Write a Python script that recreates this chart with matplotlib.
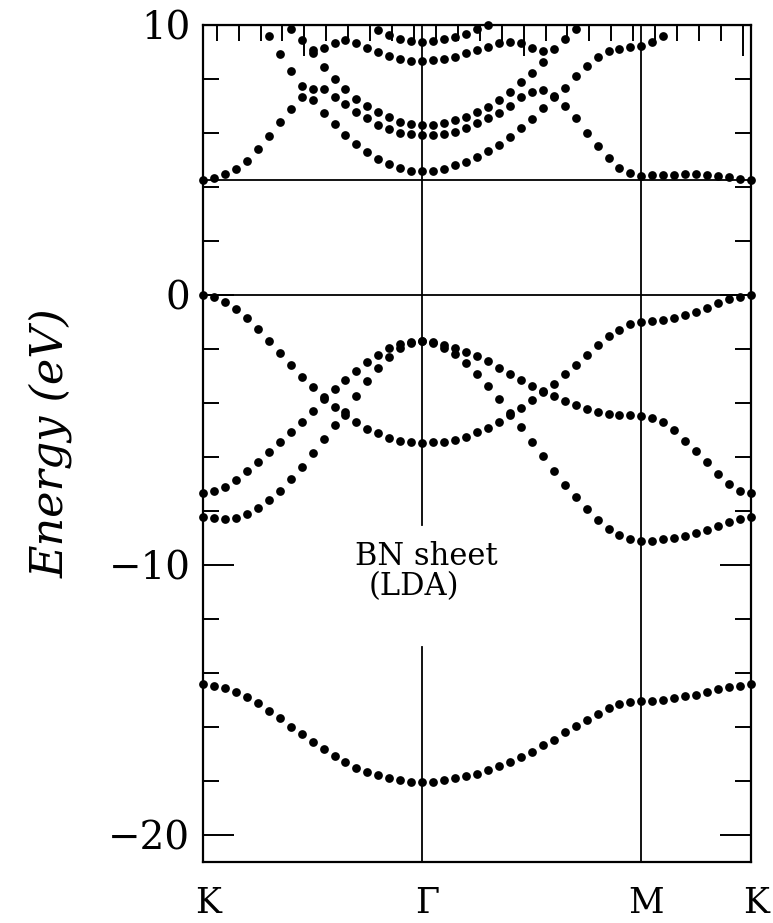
import numpy as np
import matplotlib
matplotlib.use('Agg')
import matplotlib.pyplot as plt
import matplotlib.transforms as mtrans

nan = np.nan

# k-point index along K -> Gamma -> M -> K (20 + 20 + 10 steps)
kpts = np.arange(51)
sym_pos = [0, 20, 40, 50]
sym_labels = ['K', 'Γ', 'M', 'K']

# valence bands (eV)
pi_v = [0.00, -0.09, -0.25, -0.53, -0.86, -1.27, -1.70, -2.14, -2.59, -3.02, -3.40,
        -3.79, -4.14, -4.44, -4.72, -4.96, -5.12, -5.28, -5.40, -5.46, -5.47,
        -5.46, -5.43, -5.37, -5.25, -5.09, -4.91, -4.70, -4.46, -4.19, -3.90,
        -3.59, -3.28, -2.93, -2.58, -2.21, -1.84, -1.51, -1.28, -1.06, -1.00,
        -0.98, -0.93, -0.86, -0.74, -0.62, -0.47, -0.31, -0.15, -0.06, 0.00]
sig_up = [-7.35, -7.25, -7.10, -6.85, -6.52, -6.17, -5.80, -5.46, -5.09, -4.69, -4.30,
          -3.86, -3.49, -3.15, -2.80, -2.49, -2.22, -1.98, -1.81, -1.73, -1.70,
          -1.75, -1.84, -1.96, -2.11, -2.27, -2.46, -2.70, -2.93, -3.14, -3.36,
          -3.57, -3.75, -3.94, -4.09, -4.21, -4.33, -4.40, -4.44, -4.46, -4.47,
          -4.57, -4.72, -5.00, -5.40, -5.78, -6.20, -6.63, -7.00, -7.26, -7.35]
sig_lo = [-8.23, -8.27, -8.31, -8.25, -8.12, -7.90, -7.59, -7.25, -6.83, -6.36, -5.86,
          -5.35, -4.81, -4.32, -3.73, -3.19, -2.72, -2.31, -1.98, -1.79, -1.70,
          -1.78, -1.95, -2.20, -2.52, -2.93, -3.36, -3.84, -4.37, -4.90, -5.44,
          -5.98, -6.51, -7.02, -7.48, -7.93, -8.32, -8.67, -8.90, -9.05, -9.12,
          -9.11, -9.05, -8.99, -8.93, -8.83, -8.70, -8.54, -8.40, -8.30, -8.22]
s_low = [-14.41, -14.47, -14.54, -14.69, -14.88, -15.12, -15.39, -15.68, -15.99, -16.27, -16.54,
         -16.81, -17.06, -17.30, -17.51, -17.65, -17.79, -17.90, -17.98, -18.02, -18.05,
         -18.02, -17.96, -17.90, -17.83, -17.73, -17.61, -17.46, -17.30, -17.10, -16.91,
         -16.67, -16.47, -16.20, -15.95, -15.73, -15.50, -15.29, -15.15, -15.07, -15.03,
         -15.02, -14.99, -14.93, -14.87, -14.80, -14.70, -14.61, -14.53, -14.47, -14.41]

# conduction bands (eV), nan = above the frame
cb_pi = [4.26, 4.32, 4.48, 4.67, 4.98, 5.41, 5.89, 6.40, 6.89, 7.35, 7.62,
         7.62, 7.35, 7.07, 6.79, 6.54, 6.30, 6.14, 6.01, 5.95, 5.93,
         5.94, 5.98, 6.05, 6.17, 6.36, 6.54, 6.73, 7.00, 7.32, 7.53,
         7.59, 7.37, 7.00, 6.54, 6.01, 5.52, 5.09, 4.72, 4.51, 4.42,
         4.44, 4.44, 4.46, 4.47, 4.47, 4.46, 4.42, 4.36, 4.30, 4.26]
cb_nfe = [nan, nan, nan, nan, nan, nan, 9.60, 8.93, 8.31, 7.74, 7.22,
          6.73, 6.32, 5.93, 5.59, 5.31, 5.02, 4.85, 4.69, 4.60, 4.59,
          4.60, 4.68, 4.80, 4.94, 5.12, 5.33, 5.56, 5.86, 6.17, 6.52,
          6.91, 7.33, 7.68, 8.12, 8.49, 8.80, 9.02, 9.11, 9.20, 9.23,
          9.36, 9.60, nan, nan, nan, nan, nan, nan, nan, nan]
cb_3 = [nan, nan, nan, nan, nan, nan, nan, nan, 9.84, 9.44, 8.95,
        8.46, 8.00, 7.62, 7.26, 7.00, 6.77, 6.58, 6.42, 6.33, 6.30,
        6.31, 6.37, 6.48, 6.60, 6.79, 6.98, 7.21, 7.53, 7.88, 8.21,
        8.62, 9.10, 9.49, 9.84, nan, nan, nan, nan, nan, nan,
        nan, nan, nan, nan, nan, nan, nan, nan, nan, nan]
cb_e = [nan, nan, nan, nan, nan, nan, nan, nan, nan, nan, 9.07,
        9.14, 9.35, 9.44, 9.32, 9.16, 9.01, 8.85, 8.73, 8.67, 8.67,
        8.69, 8.75, 8.83, 8.95, 9.07, 9.19, 9.32, 9.37, 9.32, 9.14,
        9.04, nan, nan, nan, nan, nan, nan, nan, nan, nan,
        nan, nan, nan, nan, nan, nan, nan, nan, nan, nan]
cb_f = [nan] * 16 + [9.81, 9.63, 9.50, 9.40, 9.38,
                     9.40, 9.47, 9.57, 9.68, 9.84, 9.99] + [nan] * 24

bands = [pi_v, sig_up, sig_lo, s_low, cb_pi, cb_nfe, cb_3, cb_e, cb_f]

cbm = 4.26
gamma_gap = (-13.04, -8.52)

plt.rcParams['font.family'] = 'DejaVu Serif'

fig = plt.figure(figsize=(7.73, 9.23), dpi=100)
ax = fig.add_axes([203 / 773, 61 / 923, 548 / 773, 837 / 923])

for b in bands:
    ax.plot(kpts, b, 'o', ms=6.3, color='black', mew=0, clip_on=False, zorder=3)

lw = 1.3
ax.axhline(0, color='black', lw=lw)
ax.axhline(cbm, color='black', lw=lw)
ax.axvline(sym_pos[2], color='black', lw=lw)
ax.plot([sym_pos[1]] * 2, [10, gamma_gap[1]], color='black', lw=lw)
ax.plot([sym_pos[1]] * 2, [gamma_gap[0], -21], color='black', lw=lw)

ax.set_xlim(0, 50)
ax.set_ylim(-21, 10)
for s in ax.spines.values():
    s.set_linewidth(1.6)

ax.set_xticks(sym_pos, sym_labels)
ax.tick_params(axis='x', length=0, pad=17, labelsize=25)
shift = mtrans.ScaledTranslation(5 / 100, 0, fig.dpi_scale_trans)
for lab in ax.get_xticklabels():
    lab.set_transform(lab.get_transform() + shift)

ax.set_yticks([-20, -10, 0, 10])
ax.set_yticks(np.arange(-20, 11, 2), minor=True)
ax.tick_params(axis='y', which='both', direction='in', left=True, right=True,
               width=1.4, labelsize=28, pad=9)
ax.tick_params(axis='y', which='major', length=22)
ax.tick_params(axis='y', which='minor', length=11.5)

top = ax.secondary_xaxis('top')
top.set_xticks([9.25, 29.25, 49.25], labels=[])
top.set_xticks(np.arange(1.25, 50, 2), minor=True)
top.tick_params(which='both', direction='in', width=1.4)
top.tick_params(which='major', length=22)
top.tick_params(which='minor', length=11.5)
top.xaxis.set_minor_formatter(plt.NullFormatter())

ax.set_ylabel('Energy (eV)', fontsize=32, fontstyle='italic')
ax.yaxis.set_label_coords(-0.238, 0.5)

ax.text(20.4, -9.7, 'BN sheet', ha='center', va='center', fontsize=22)
ax.text(19.2, -10.8, '(LDA)', ha='center', va='center', fontsize=22)

fig.savefig('out.png', dpi=100)
